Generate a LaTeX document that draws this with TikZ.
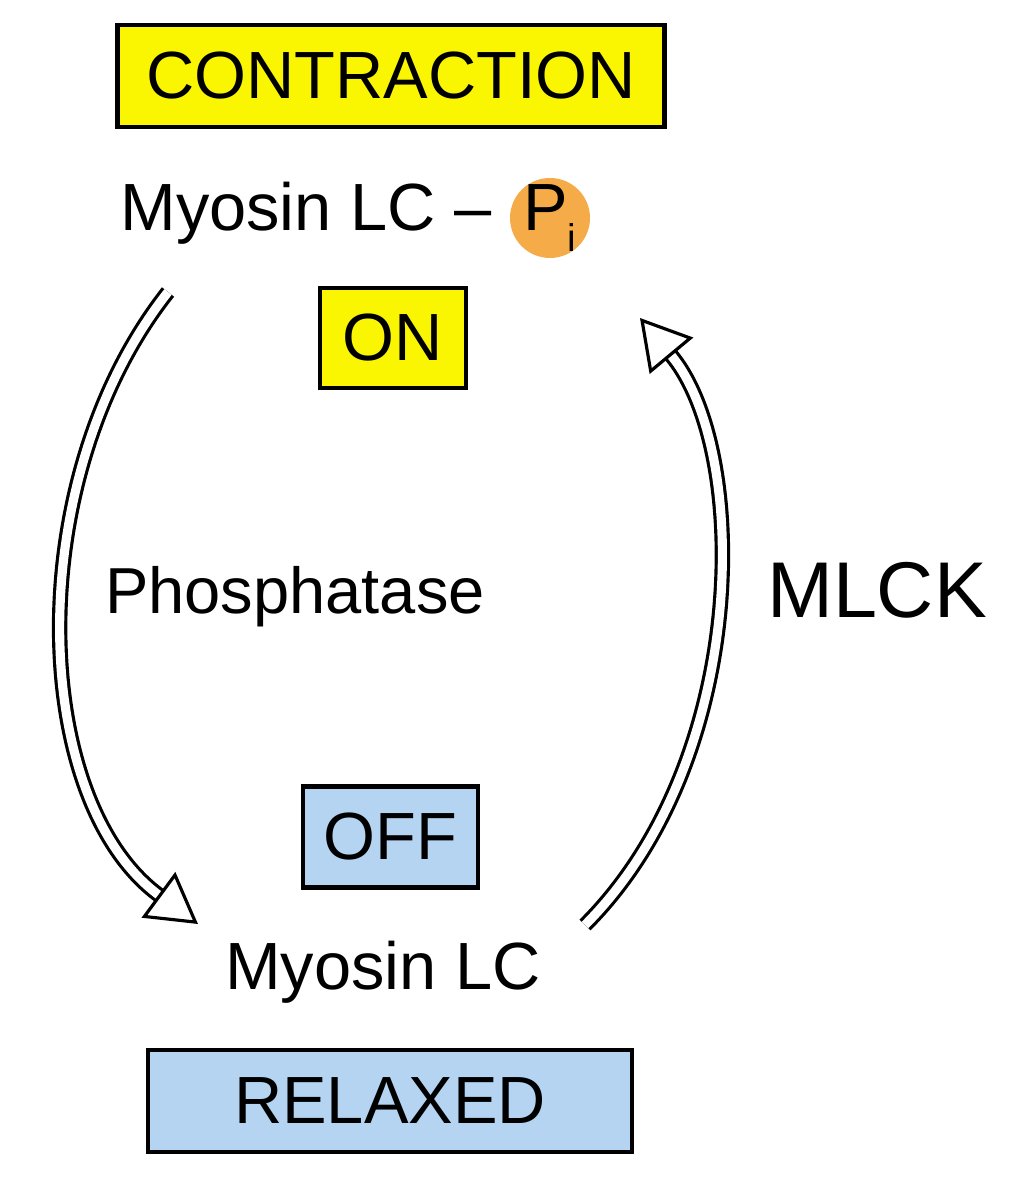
\documentclass[tikz,border=0pt]{standalone}
\usepackage{fontspec}
\setmainfont{Liberation Sans}
\usetikzlibrary{arrows.meta}
\usetikzlibrary{positioning}
\definecolor{onyellow}{RGB}{250,245,0}
\definecolor{offblue}{RGB}{180,212,242}
\definecolor{piorange}{RGB}{245,172,72}
\begin{document}
\begin{tikzpicture}[semithick,
			box/.style={draw,line width=1.2pt,inner sep=0pt,font=\fontsize{19}{22}\selectfont},
			lbl/.style={inner sep=0pt,font=\fontsize{19}{22}\selectfont},
			hollow/.style={double,double distance=2.6pt,line width=0.9pt,
				-{Triangle[open,length=14pt,width=16pt,line width=0.9pt]}}]
			\useasboundingbox (0,0) rectangle (10.15,12);
			
			\node[box,fill=onyellow,minimum width=5.47cm,minimum height=1.02cm] (contr) at (3.91,11.24) {CONTRACTION};
			\node[lbl] (myoP) at (3.06,9.87) {Myosin LC –};
			\node[circle,fill=piorange,minimum size=0.8cm,inner sep=0pt] (pi) at (5.5,9.82) {};
			\node[lbl] at (pi.center) {P\raisebox{-0.6ex}{\fontsize{11}{13}\selectfont i}};
			\node[box,fill=onyellow,minimum width=1.46cm,minimum height=1.0cm] (on) at (3.93,8.62) {ON};
			\node[lbl,font=\fontsize{18.5}{22}\selectfont] (phos) at (2.95,6.03) {Phosphatase};
			\node[lbl,font=\fontsize{22.5}{26}\selectfont] (mlck) at (8.77,6.1) {MLCK};
			\node[box,fill=offblue,minimum width=1.75cm,minimum height=1.01cm] (off) at (3.905,3.63) {OFF};
			\node[lbl] (myo) at (3.83,2.28) {Myosin LC};
			\node[box,fill=offblue,minimum width=4.84cm,minimum height=1.02cm] (relax) at (3.9,0.99) {RELAXED};
			
			\coordinate (ls) at (1.68,9.08);
			\coordinate (le) at (1.98,2.76);
			\coordinate (rs) at (5.85,2.75);
			\coordinate (re) at (6.4,8.82);
			
			\draw[hollow] (ls) .. controls (0.2,7.2) and (0.3,4.0) .. (le);
			\draw[hollow] (rs) .. controls (7.5,4.4) and (7.5,7.5) .. (re);
		\end{tikzpicture}
\end{document}
